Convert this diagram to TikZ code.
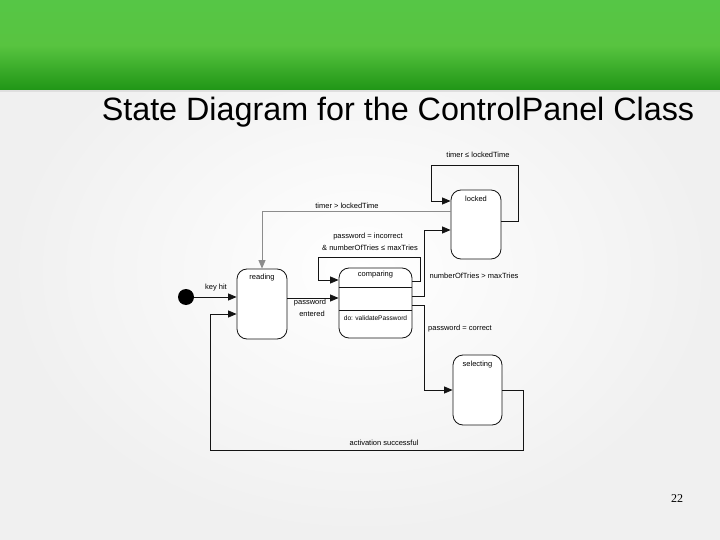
\documentclass[tikz,border=0pt]{standalone}
\usepackage{fontspec}
\setmainfont{Liberation Sans}
\newfontfamily\serifnum{Liberation Serif}
\usetikzlibrary{arrows.meta,calc}
\definecolor{gtop}{RGB}{86,198,70}
\definecolor{gmid}{RGB}{88,196,64}
\definecolor{gbot}{RGB}{32,150,22}
\definecolor{lin}{RGB}{20,20,20}
\definecolor{glin}{RGB}{140,140,140}
\tikzset{
  x=1pt, y=-1pt,
  state/.style={draw=lin, line width=0.8pt, rounded corners=10pt, inner sep=0pt, fill=white},
  lbl/.style={font=\fontsize{7.5}{8}\selectfont, inner sep=0.5pt, text=black},
  conn/.style={draw=lin, line width=0.8pt},
  arr/.style={conn, -{Triangle[length=8.5pt,width=7pt]}},
}
\begin{document}
\begin{tikzpicture}
\useasboundingbox (0,0) rectangle (720,540);
% background
\shade[inner color=white, outer color=gray!12] (0,0) rectangle (720,540);
\shade[top color=gtop, bottom color=gbot, middle color=gmid] (0,0) rectangle (720,90);
\fill[gray!25] (0,90) rectangle (720,92);
% title
\node[font=\fontsize{32.3}{34}\selectfont, anchor=base] (title) at (398,121) {State Diagram for the ControlPanel Class};
% states
\node[state, minimum width=50pt, minimum height=70pt,
  label={[lbl,anchor=north,yshift=-5pt]north:reading}] (reading) at (262,304) {};
\node[state, minimum width=73pt, minimum height=70pt,
  label={[lbl,anchor=north,yshift=-3pt]north:comparing}] (comparing) at (375.5,303) {};
\node[state, minimum width=50pt, minimum height=69pt,
  label={[lbl,anchor=north,yshift=-6pt]north:locked}] (locked) at (476,224.5) {};
\node[state, minimum width=49pt, minimum height=70pt,
  label={[lbl,anchor=north,yshift=-6pt]north:selecting}] (selecting) at (477.5,390) {};
% comparing compartments
\draw[conn] (comparing.west |- 0,287) -- (comparing.east |- 0,287);
\draw[conn] (comparing.west |- 0,310) -- (comparing.east |- 0,310);
\node[lbl, font=\fontsize{6.6}{7}\selectfont] (dolbl) at (375.5,318) {do: validatePassword};
% initial state
\node[circle, fill=black, minimum size=16pt, inner sep=0pt] (init) at (186,297) {};
% connectors
\draw[arr] (init) -- (init -| reading.west);
\draw[arr] (reading.east |- 0,298) -- (comparing.west |- 0,298);
\coordinate (bl) at (210,450);
\coordinate (br) at (523,450);
\draw[arr] (selecting.east) -| (br) -| (bl) |- (reading.west |- 0,314);
\draw[arr] (comparing.east |- 0,305) -- (424,305) |- (selecting.west);
\draw[arr] (comparing.east |- 0,296) -- (424,296) |- (locked.west |- 0,230);
\draw[arr] (comparing.east |- 0,281) -- (420,281) -- (420,257) -- (318,257) -- (318,280) -- (comparing.west |- 0,280);
\draw[arr] (locked.east |- 0,221) -- (518,221) -- (518,165) -- (431,165) -- (431,201) -- (locked.west |- 0,201);
\draw[arr, draw=glin] (locked.west |- 0,211) -| (reading.north);
% labels
\node[lbl] (l1) at (478,155) {timer ≤ lockedTime};
\node[lbl] (l2) at (347,206) {timer > lockedTime};
\node[lbl] (l3) at (368,237) {password = incorrect};
\node[lbl] (l4) at (370,248) {\& numberOfTries ≤ maxTries};
\node[lbl] (l5) at (474,276) {numberOfTries > maxTries};
\node[lbl] (l6) at (460,329) {password = correct};
\node[lbl] (l7) at (310,303) {password};
\node[lbl] (l8) at (312,314) {entered};
\node[lbl] (l9) at (216,288) {key hit};
\node[lbl] (l10) at (384,443) {activation successful};
% slide number
\node[font=\serifnum\fontsize{12}{14}\selectfont] (num) at (677,499) {22};
\end{tikzpicture}
\end{document}
